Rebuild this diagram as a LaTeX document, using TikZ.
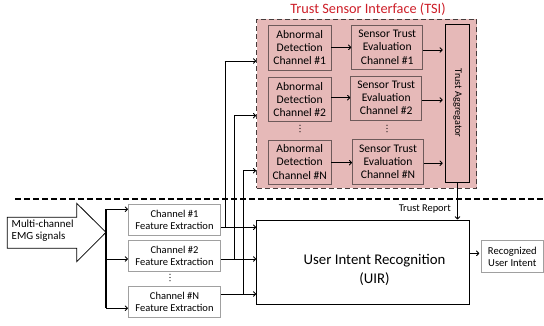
\documentclass[tikz,border=0pt]{standalone}
\usepackage{fontspec}
\setmainfont{Carlito}
\usetikzlibrary{arrows.meta}
\definecolor{tsipink}{RGB}{230,185,184}
\definecolor{tsiedge}{RGB}{70,60,60}
\definecolor{boxedge}{RGB}{110,90,90}
\definecolor{lightedge}{RGB}{160,160,160}
\definecolor{titlered}{RGB}{205,30,40}
\tikzset{
  arr/.style={-{To[length=3.2pt,width=5.5pt]}, line width=0.9pt},
  bus/.style={line width=1.3pt},
  inbox/.style={draw=boxedge, line width=0.8pt, fill=tsipink, inner sep=0pt,
    align=center, font=\fontsize{11.6}{13.2}\selectfont},
  featbox/.style={draw=lightedge, line width=0.8pt, fill=white, inner sep=0pt,
    minimum width=92.4pt, minimum height=30.6pt, align=center,
    font=\fontsize{10.5}{11.8}\selectfont},
  dotstack/.pic={\foreach \k in {-3.3,0,3.3} \fill (0,\k) circle (0.6pt);}
}
\begin{document}
\begin{tikzpicture}[x=1pt,y=-1pt]
\useasboundingbox (0,0) rectangle (544,325);

% trust sensor interface frame
\node[draw=tsiedge, dashed, dash pattern=on 5pt off 3pt, line width=1.2pt, fill=tsipink,
  minimum width=220pt, minimum height=169pt, inner sep=0pt] (tsi) at (366.7,103.8) {};
\node[text=titlered, font=\fontsize{14.3}{16}\selectfont] (title) at (368,9.5) {Trust Sensor Interface (TSI)};

% abnormal detection channels
\node[inbox, minimum width=62.7pt, minimum height=44.3pt] (ab1) at (299.7,47.8) {Abnormal\\Detection\\Channel \#1};
\node[inbox, minimum width=62.7pt, minimum height=44pt] (ab2) at (299.7,99.7) {Abnormal\\Detection\\Channel \#2};
\node[inbox, minimum width=62.7pt, minimum height=44pt] (abn) at (299.7,162) {Abnormal\\Detection\\Channel \#N};

% sensor trust evaluation channels
\node[inbox, minimum width=71pt, minimum height=44.3pt] (st1) at (387.2,47.2) {Sensor Trust\\Evaluation\\Channel \#1};
\node[inbox, minimum width=71pt, minimum height=44pt] (st2) at (386.2,98) {Sensor Trust\\Evaluation\\Channel \#2};
\node[inbox, minimum width=71pt, minimum height=44.7pt] (stn) at (388,161.7) {Sensor Trust\\Evaluation\\Channel \#N};

\pic at (300,128.5) {dotstack};
\pic at (387,128.5) {dotstack};

% trust aggregator
\node[draw=black, line width=0.9pt, fill=tsipink, minimum width=23.6pt, minimum height=158.7pt,
  inner sep=0pt] (agg) at (457.5,103.3) {};
\node[rotate=-90, font=\fontsize{10.2}{11}\selectfont] (aggtxt) at (457.5,103) {Trust Aggregator};

\draw[arr] (ab1.east |- 0,47.3) -- (st1.west |- 0,47.3);
\draw[arr] (ab2.east |- 0,97.7) -- (st2.west |- 0,97.7);
\draw[arr] (abn.east |- 0,162.7) -- (stn.west |- 0,162.7);
\draw[arr] (st1.east |- 0,50) -- (442.7,50) coordinate (a1);
\draw[arr] (st2.east |- 0,100) -- (442.7,100) coordinate (a2);
\draw[arr] (stn.east |- 0,163.3) -- (442.7,163.3) coordinate (an);

% separator
\draw[line width=1.2pt, dash pattern=on 5.5pt off 3.5pt] (15,199) coordinate (sepl) -- (544,199) coordinate (sepr);

% EMG input arrow
\draw[line width=0.8pt, fill=white] (7.3,217.3) -- (76.7,217.3) -- (76.7,203.3) -- (106,232.3) coordinate (tip)
  -- (76.7,261.7) -- (76.7,248.3) -- (7.3,248.3) -- cycle;
\node[anchor=west, align=left, inner sep=0pt, font=\fontsize{10.9}{12.4}\selectfont] (emg) at (11.5,230.5) {Multi-channel\\EMG signals};

% feature extraction
\node[featbox, minimum height=31pt] (fe1) at (174.5,219.5) {Channel \#1\\Feature Extraction};
\node[featbox, minimum height=30.3pt] (fe2) at (174.5,255.8) {Channel \#2\\Feature Extraction};
\node[featbox] (fen) at (174.5,302) {Channel \#N\\Feature Extraction};
\pic at (170,277.5) {dotstack};

\draw[bus] (106,209.3) coordinate (bt) -- (106,308.3) coordinate (bb);
\draw[arr] (bt) -- (fe1.west |- bt);
\draw[arr] (106,259) -- (fe2.west |- 0,259);
\draw[arr] (bb) -- (fen.west |- bb);

% user intent recognition
\node[draw=black, line width=0.9pt, fill=white, minimum width=212.3pt, minimum height=84pt,
  inner sep=0pt] (uir) at (362.8,262) {};
\node[align=center, font=\fontsize{14.8}{19}\selectfont] (uirtxt) at (374.5,270) {User Intent Recognition\\(UIR)};

\draw[arr] (fe1.east |- 0,227.3) -- (uir.west |- 0,227.3);
\draw[arr] (fe2.east |- 0,259) -- (uir.west |- 0,259);
\draw[arr] (fen.east |- 0,294) -- (uir.west |- 0,294);

% channel signals routed to the trust sensor interface
\draw[bus] (225.3,227.3) -- (225.3,61);
\draw[arr] (224.6,61) -- (tsi.west |- 0,61);
\draw[bus] (234.3,259) -- (234.3,115.7);
\draw[arr] (234.3,115.7) -- (tsi.west |- 0,115.7);
\draw[bus] (243.3,294) -- (243.3,170.7);
\draw[arr] (243.3,170.7) -- (tsi.west |- 0,170.7);

% trust report
\draw[arr] (agg.south) -- (uir.north -| agg.south);
\node[anchor=east, inner sep=0pt, font=\fontsize{10.4}{11}\selectfont] (tr) at (451,208.7) {Trust Report};

% output
\node[draw=lightedge, line width=0.8pt, fill=white, minimum width=62pt, minimum height=31.6pt,
  inner sep=0pt, align=center, font=\fontsize{10.6}{12.2}\selectfont] (out) at (512.3,256.5) {Recognized\\User Intent};
\draw[arr] (uir.east |- 0,253.3) -- (479.3,253.3);
\end{tikzpicture}
\end{document}
